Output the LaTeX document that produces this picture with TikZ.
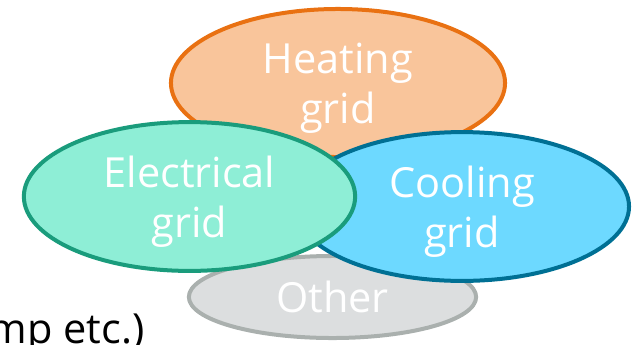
\documentclass[tikz,border=0pt]{standalone}
\usepackage{fontspec}
\setmainfont{Open Sans}
\usepackage{tikz}
\usetikzlibrary{shapes.geometric}
\definecolor{heatfill}{RGB}{249,197,155}
\definecolor{heatdraw}{RGB}{233,113,18}
\definecolor{elecfill}{RGB}{142,238,214}
\definecolor{elecdraw}{RGB}{26,156,124}
\definecolor{coolfill}{RGB}{109,217,255}
\definecolor{cooldraw}{RGB}{0,112,148}
\definecolor{othfill}{RGB}{220,222,223}
\definecolor{othdraw}{RGB}{170,176,174}

\begin{document}
\begin{tikzpicture}[
    x=0.025cm, y=-0.025cm,
    every node/.style={font=\fontsize{29.5}{35.6}\selectfont},
    grid/.style={draw, ellipse, line width=0.1cm, inner sep=0pt,
                 text=white, align=center},
    gridtext/.style={text=white, align=center, inner sep=0pt, yshift=-0.12cm},
]
    \useasboundingbox (0,0) rectangle (634,344);
    \clip (0,0) rectangle (634,344);

    % Bottom layer first
    \node[grid, fill=othfill, draw=othdraw, minimum width=7.18cm, minimum height=2.05cm]
        (other) at (332.5,297) {Other};
    \node[grid, fill=heatfill, draw=heatdraw, minimum width=8.35cm, minimum height=3.7cm,
          label={[gridtext, name=heattext]center:Heating\\grid}]
        (heat)  at (338,83) {};
    \node[grid, fill=coolfill, draw=cooldraw, minimum width=8.35cm, minimum height=3.72cm,
          label={[gridtext, name=cooltext]center:Cooling\\grid}]
        (cool)  at (462,206.5) {};
    \node[grid, fill=elecfill, draw=elecdraw, minimum width=8.28cm, minimum height=3.72cm,
          label={[gridtext, name=electext]center:Electrical\\grid}]
        (elec)  at (189.5,196.5) {};

    % Cut-off caption text
    \node[anchor=base east, inner sep=0pt, text=black] (note) at (145,343) {mp etc.)};

\end{tikzpicture}
\end{document}
